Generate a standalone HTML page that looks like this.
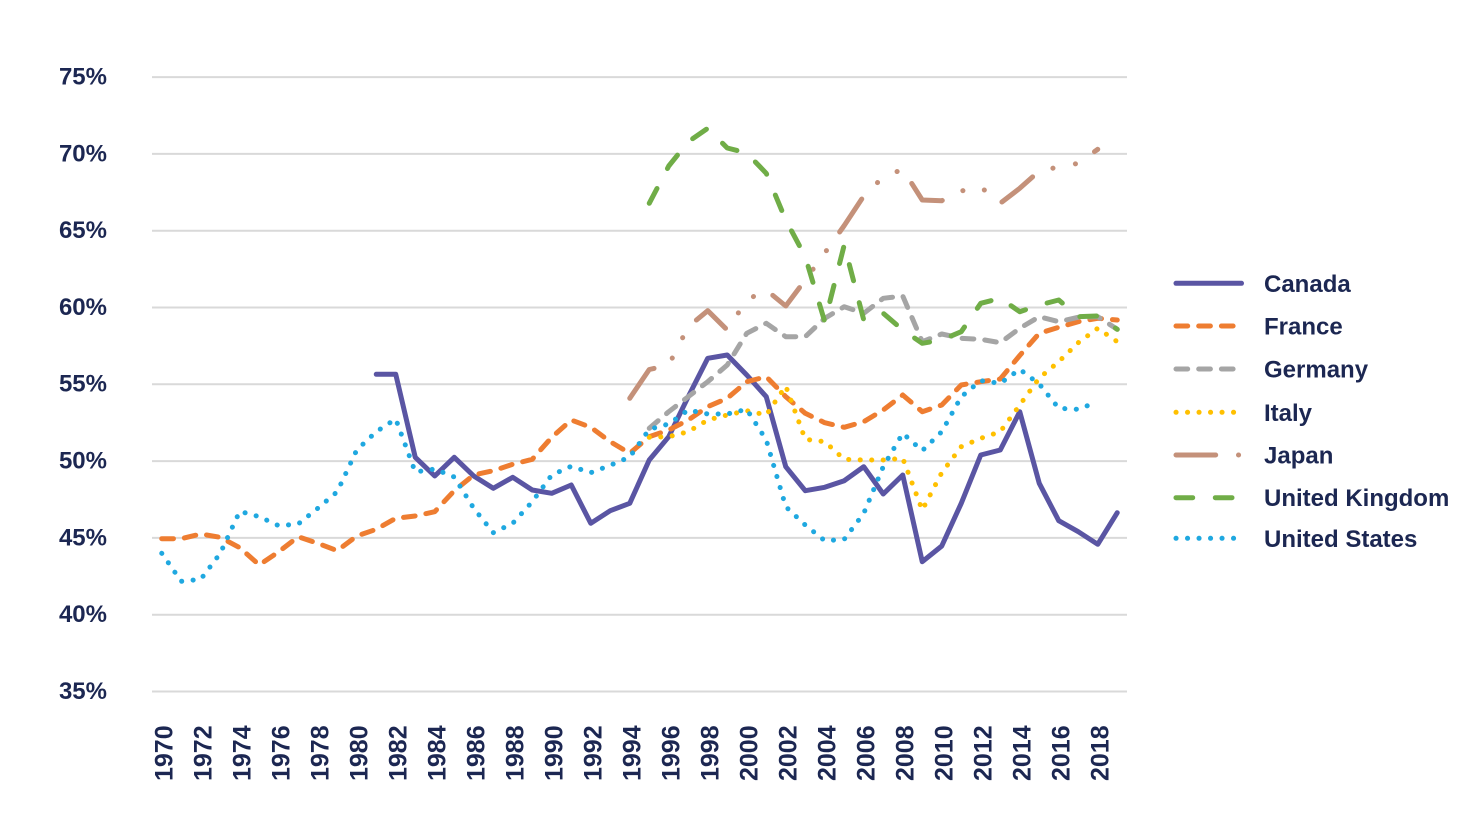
<!DOCTYPE html>
<html>
<head>
<meta charset="utf-8">
<style>
  html, body { margin: 0; padding: 0; background: #ffffff; }
  svg { display: block; }
  text { font-family: "Liberation Sans", Arial, sans-serif; font-weight: bold; fill: #1c2752; }
</style>
</head>
<body>
<svg width="1477" height="818" viewBox="0 0 1477 818" xmlns="http://www.w3.org/2000/svg">
  <rect x="0" y="0" width="1477" height="818" fill="#ffffff"/>

  <!-- gridlines -->
  <g stroke="#d9d9d9" stroke-width="2">
    <line x1="152" y1="77.1" x2="1127" y2="77.1"/>
    <line x1="152" y1="153.9" x2="1127" y2="153.9"/>
    <line x1="152" y1="230.7" x2="1127" y2="230.7"/>
    <line x1="152" y1="307.5" x2="1127" y2="307.5"/>
    <line x1="152" y1="384.3" x2="1127" y2="384.3"/>
    <line x1="152" y1="461.1" x2="1127" y2="461.1"/>
    <line x1="152" y1="537.9" x2="1127" y2="537.9"/>
    <line x1="152" y1="614.7" x2="1127" y2="614.7"/>
    <line x1="152" y1="691.5" x2="1127" y2="691.5"/>
  </g>

  <!-- y labels -->
  <g font-size="24" text-anchor="end">
    <text x="107" y="84.5">75%</text>
    <text x="107" y="161.3">70%</text>
    <text x="107" y="238.1">65%</text>
    <text x="107" y="314.9">60%</text>
    <text x="107" y="391.7">55%</text>
    <text x="107" y="468.5">50%</text>
    <text x="107" y="545.3">45%</text>
    <text x="107" y="622.1">40%</text>
    <text x="107" y="698.9">35%</text>
  </g>

  <!-- x labels -->
  <g font-size="25">
    <text transform="translate(172.35,781) rotate(-90)">1970</text>
    <text transform="translate(211.35,781) rotate(-90)">1972</text>
    <text transform="translate(250.35,781) rotate(-90)">1974</text>
    <text transform="translate(289.35,781) rotate(-90)">1976</text>
    <text transform="translate(328.35,781) rotate(-90)">1978</text>
    <text transform="translate(367.35,781) rotate(-90)">1980</text>
    <text transform="translate(406.35,781) rotate(-90)">1982</text>
    <text transform="translate(445.35,781) rotate(-90)">1984</text>
    <text transform="translate(484.35,781) rotate(-90)">1986</text>
    <text transform="translate(523.35,781) rotate(-90)">1988</text>
    <text transform="translate(562.35,781) rotate(-90)">1990</text>
    <text transform="translate(601.35,781) rotate(-90)">1992</text>
    <text transform="translate(640.35,781) rotate(-90)">1994</text>
    <text transform="translate(679.35,781) rotate(-90)">1996</text>
    <text transform="translate(718.35,781) rotate(-90)">1998</text>
    <text transform="translate(757.35,781) rotate(-90)">2000</text>
    <text transform="translate(796.35,781) rotate(-90)">2002</text>
    <text transform="translate(835.35,781) rotate(-90)">2004</text>
    <text transform="translate(874.35,781) rotate(-90)">2006</text>
    <text transform="translate(913.35,781) rotate(-90)">2008</text>
    <text transform="translate(952.35,781) rotate(-90)">2010</text>
    <text transform="translate(991.35,781) rotate(-90)">2012</text>
    <text transform="translate(1030.35,781) rotate(-90)">2014</text>
    <text transform="translate(1069.35,781) rotate(-90)">2016</text>
    <text transform="translate(1108.35,781) rotate(-90)">2018</text>
  </g>

  <!-- series -->
  <g fill="none" stroke-width="5" stroke-linecap="round" stroke-linejoin="round">
    <!-- Canada -->
    <polyline stroke="#5a55a3" points="376.25,374.3 395.75,374.3 415.25,457.3 434.75,476 454.25,457.3 473.75,476 493.25,488.3 512.75,477.3 532.25,490 551.75,493.3 571.25,485 590.75,523.3 610.25,510.7 629.75,503.3 649.25,460 668.75,436.7 688.25,396.7 707.75,358.3 727.25,355 746.75,375 766.25,396.7 785.75,466.7 805.25,490.7 824.75,487.3 844.25,480.7 863.75,466.7 883.25,494 902.75,475 922.25,561.7 941.75,546 961.25,503.3 980.75,455 1000.25,450 1019.75,411.7 1039.25,483.3 1058.75,520.7 1078.25,531.7 1097.75,544.3 1117.25,512.7"/>
    <!-- France -->
    <polyline stroke="#ee7d31" stroke-dasharray="11.7 11" points="161.75,538.7 181.25,538.7 200.75,534 220.25,537.3 239.75,547.7 259.25,565 278.75,551.7 298.25,536.7 317.75,543.3 337.25,550.7 356.75,536 376.25,529.3 395.75,518.3 415.25,516 434.75,511.7 454.25,490.7 473.75,475 493.25,470.7 512.75,464.3 532.25,459.3 551.75,437.3 571.25,420 590.75,427.3 610.25,441.7 629.75,453.3 649.25,436.7 668.75,430 688.25,420 707.75,406.7 727.25,398.3 746.75,381.7 766.25,376.7 785.75,396.7 805.25,413.3 824.75,422.7 844.25,427.3 863.75,421.7 883.25,410 902.75,395 922.25,411.7 941.75,405 961.25,385 980.75,381.7 1000.25,379 1019.75,355.5 1039.25,333.3 1058.75,327.3 1078.25,321.7 1097.75,318.3 1117.25,320"/>
    <!-- Germany -->
    <polyline stroke="#a5a5a5" stroke-dasharray="11.7 11" points="649.25,428.3 668.75,411.7 688.25,396.7 707.75,381.7 727.25,365 746.75,333.3 766.25,323.3 785.75,336.7 805.25,336.7 824.75,318.3 844.25,306.7 863.75,313.3 883.25,298.3 902.75,296 922.25,341.7 941.75,334 961.25,338.3 980.75,339.3 1000.25,342.7 1019.75,328.3 1039.25,316.7 1058.75,321.7 1078.25,317.3 1097.75,316.7 1117.25,329.3"/>
    <!-- Italy -->
    <polyline stroke="#ffc000" stroke-dasharray="0.1 11.4" points="649.25,437.3 668.75,436.7 688.25,431.7 707.75,420 727.25,415 746.75,410.7 766.25,415 785.75,386 805.25,439.3 824.75,441.7 844.25,459.3 863.75,460 883.25,460 902.75,458.3 922.25,510 941.75,472.7 961.25,446.7 980.75,438.3 1000.25,431.7 1019.75,405 1039.25,378 1058.75,361.7 1078.25,342.7 1097.75,328.3 1117.25,341.7"/>
    <!-- Japan -->
    <polyline stroke="#c4917a" stroke-dasharray="39.7 22.8 0.1 22.8 0.1 22.8" points="629.75,398.3 649.25,369.5 668.75,365 688.25,326.7 707.75,310.7 727.25,330 746.75,300 766.25,290 785.75,306 805.25,280 824.75,253 844.25,225.5 863.75,196 883.25,177 902.75,169.3 922.25,200 941.75,200.7 961.25,191 980.75,187 1000.25,203.3 1019.75,188.3 1039.25,171 1058.75,167 1078.25,163.3 1097.75,149.3"/>
    <!-- United Kingdom -->
    <polyline stroke="#70ad47" stroke-dasharray="16.7 22.6" points="649.25,203.3 668.75,166 688.25,141.7 707.75,128.3 727.25,148 746.75,153 766.25,173.3 785.75,220 805.25,256.7 824.75,321.7 844.25,245 863.75,320 883.25,313.3 902.75,330 922.25,343.3 941.75,340 961.25,331.7 980.75,303.3 1000.25,298.3 1019.75,311.7 1039.25,305 1058.75,300 1078.25,316.7 1097.75,316 1117.25,329.3"/>
    <!-- United States -->
    <polyline stroke="#1fa8e0" stroke-dasharray="0.1 11.4" points="161.75,553.3 181.25,581.3 200.75,579.3 220.25,553.3 239.75,511.3 259.25,516.7 278.75,525.7 298.25,524 317.75,508.3 337.25,491.7 356.75,450 376.25,431.7 395.75,419 415.25,472 434.75,469 454.25,477 473.75,508.3 493.25,532.7 512.75,523.3 532.25,501.7 551.75,475 571.25,466.3 590.75,472.7 610.25,465.3 629.75,457 649.25,429.3 668.75,424 688.25,410 707.75,414 727.25,414 746.75,409.3 766.25,440 785.75,506.7 805.25,525 824.75,540.7 844.25,539.3 863.75,513.3 883.25,466.7 902.75,433.3 922.25,450.7 941.75,431.7 961.25,396.7 980.75,380.7 1000.25,383.3 1019.75,369.3 1039.25,384 1058.75,408.3 1078.25,409.3 1097.75,401.7"/>
  </g>

  <!-- legend -->
  <g fill="none" stroke-width="5" stroke-linecap="round">
    <line x1="1176" y1="283.3" x2="1241.5" y2="283.3" stroke="#5a55a3"/>
    <line x1="1176" y1="326" x2="1241.5" y2="326" stroke="#ee7d31" stroke-dasharray="11.7 11"/>
    <line x1="1176" y1="369" x2="1241.5" y2="369" stroke="#a5a5a5" stroke-dasharray="11.7 11"/>
    <line x1="1176" y1="412.3" x2="1241.5" y2="412.3" stroke="#ffc000" stroke-dasharray="0.1 11.4"/>
    <line x1="1176" y1="455" x2="1241.5" y2="455" stroke="#c4917a" stroke-dasharray="39.7 22.8 0.1 22.8 0.1 22.8"/>
    <line x1="1176" y1="497.7" x2="1241.5" y2="497.7" stroke="#70ad47" stroke-dasharray="16.7 22.6"/>
    <line x1="1176" y1="538.3" x2="1241.5" y2="538.3" stroke="#1fa8e0" stroke-dasharray="0.1 11.4"/>
  </g>
  <g font-size="24">
    <text x="1264" y="291.8">Canada</text>
    <text x="1264" y="334.5">France</text>
    <text x="1264" y="377.5">Germany</text>
    <text x="1264" y="420.8">Italy</text>
    <text x="1264" y="463.5">Japan</text>
    <text x="1264" y="506.2">United Kingdom</text>
    <text x="1264" y="546.8">United States</text>
  </g>
</svg>
</body>
</html>
